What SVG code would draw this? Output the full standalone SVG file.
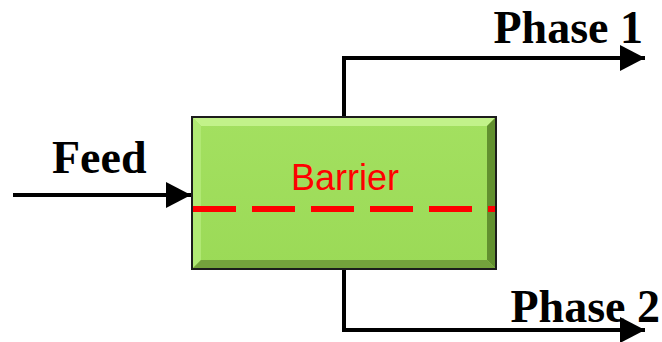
<svg xmlns="http://www.w3.org/2000/svg" width="662" height="342" viewBox="0 0 662 342">
<style>
.lbl{font-family:"Liberation Serif","Times New Roman",serif;font-weight:bold;font-size:46px;fill:#000}
.conn{fill:none;stroke:#000;stroke-width:4}
</style>
<defs>
<marker id="ah" markerUnits="userSpaceOnUse" markerWidth="26" markerHeight="26" refX="25" refY="13" orient="auto" viewBox="0 0 26 26">
<path d="M0,0 L25,13 L0,26 Z" fill="#000"/>
</marker>
<linearGradient id="face" x1="0" y1="0" x2="0" y2="1">
<stop offset="0" stop-color="#a3e060"/>
<stop offset="1" stop-color="#9bda57"/>
</linearGradient>
</defs>
<g id="connectors">
<line class="conn" x1="13" y1="195" x2="191" y2="195" marker-end="url(#ah)"/>
<polyline class="conn" points="344,117 344,58 645,58" marker-end="url(#ah)"/>
<polyline class="conn" points="344,269 344,330 645,330" marker-end="url(#ah)"/>
</g>
<g id="separator">
<rect x="191" y="116" width="306" height="154" fill="#1c1c1c"/>
<rect x="193" y="118" width="302" height="150" fill="url(#face)"/>
<polygon points="193,118 495,118 487,126 201,126" fill="#c2f28a"/>
<polygon points="193,118 201,126 201,260 193,268" fill="#b0e874"/>
<polygon points="495,118 495,268 487,260 487,126" fill="#62902f"/>
<polygon points="193,268 495,268 487,260 201,260" fill="#74a23c"/>
<line x1="193" y1="209" x2="495" y2="209" stroke="#ff0000" stroke-width="6" stroke-dasharray="43 16"/>
<text x="345" y="190" text-anchor="middle" font-family="'Liberation Sans',Arial,sans-serif" font-size="36" fill="#ff0000">Barrier</text>
</g>
<g id="feed"><text class="lbl" x="52" y="173">Feed</text></g>
<g id="phase1"><text class="lbl" x="643" y="43" text-anchor="end">Phase 1</text></g>
<g id="phase2"><text class="lbl" x="660" y="322" text-anchor="end">Phase 2</text></g>
</svg>
